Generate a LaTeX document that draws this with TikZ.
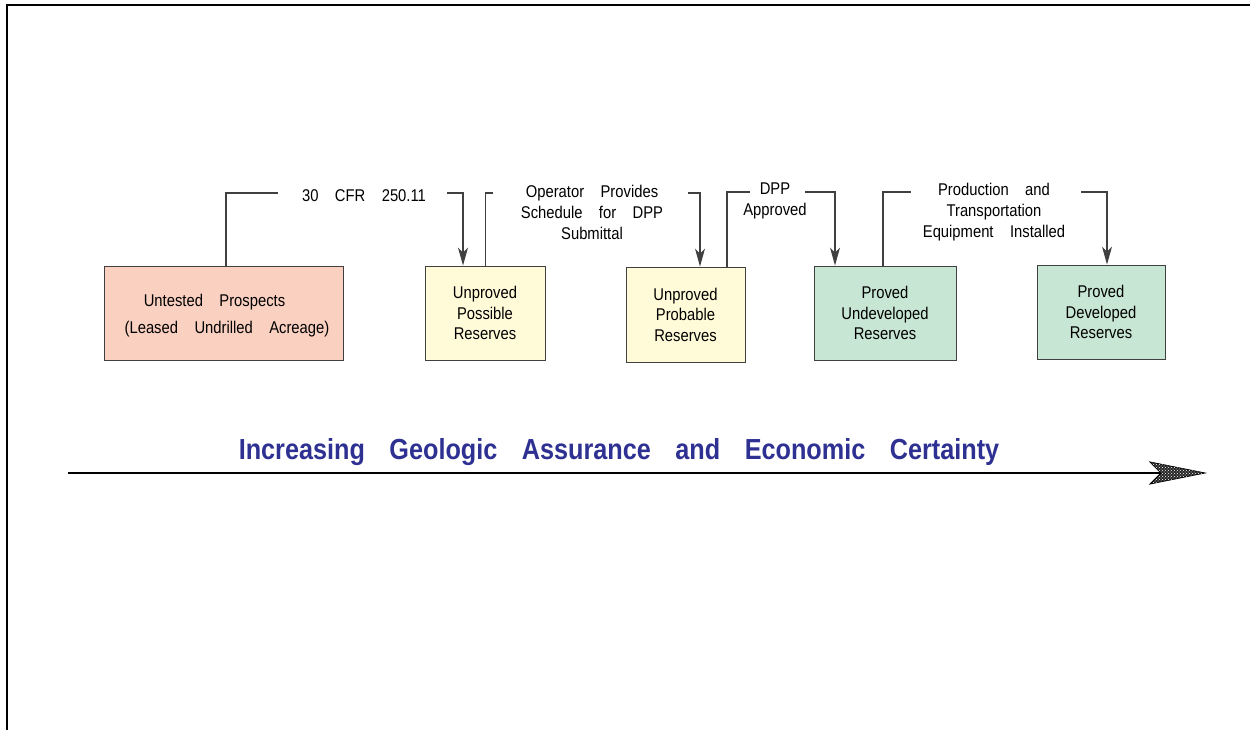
\documentclass[tikz,border=0pt]{standalone}
\usepackage{fontspec}
\setmainfont{Liberation Sans}[FakeStretch=0.87, WordSpace=4]
\usetikzlibrary{arrows.meta,patterns}
\definecolor{salmon}{RGB}{250,208,192}
\definecolor{paleyel}{RGB}{255,251,216}
\definecolor{palegrn}{RGB}{200,230,212}
\definecolor{titleblue}{RGB}{46,49,146}
\newcommand{\titlespacing}{\spaceskip=24.5pt\relax}
\tikzset{
  box/.style={draw=black!75, line width=0.9pt, align=center, inner sep=0pt,
    font=\fontsize{17}{20.5}\selectfont},
  lbl/.style={align=center, inner sep=0pt, font=\fontsize{17}{21}\selectfont},
  conn/.style={draw=black!75, line width=1.1pt},
  arr/.style={conn, -{Stealth[length=18pt,width=10pt,inset=5pt]}}
}
\begin{document}
\begin{tikzpicture}[x=1pt,y=-1pt]
\useasboundingbox (0,0) rectangle (1250,730);
% frame
\draw[line width=2.4pt] (7,730) -- (7,5) -- (1250,5);
% boxes
\node[box, fill=salmon, minimum width=239pt, minimum height=94pt] (untested) at (223.5,313) {};
\node[inner sep=0pt, align=center, font=\fontsize{17}{27}\selectfont] (untestedtxt) at (227,316)
  {\hspace*{-25pt}Untested Prospects\\(Leased Undrilled Acreage)};
\node[box, fill=paleyel, minimum width=120pt, minimum height=94pt] (possible) at (485,313)
  {Unproved\\Possible\\Reserves};
\node[box, fill=paleyel, minimum width=119pt, minimum height=95pt] (probable) at (685.5,314.5)
  {Unproved\\Probable\\Reserves};
\node[box, fill=palegrn, minimum width=142pt, minimum height=94pt] (undev) at (885,313)
  {Proved\\Undeveloped\\Reserves};
\node[box, fill=palegrn, minimum width=128pt, minimum height=94pt] (devel) at (1101,312)
  {Proved\\Developed\\Reserves};
% labels
\node[lbl] (cfr) at (364,196) {30 CFR 250.11};
\node[lbl] (oper) at (592,212) {Operator Provides\\Schedule for DPP\\Submittal};
\node[lbl] (dpp) at (775,201) {DPP\\Approved};
\node[lbl] (prod) at (994,212) {Production and\\Transportation\\Equipment Installed};
% connector points
\coordinate (k1) at (226,193); \coordinate (e1) at (278,193);
\coordinate (f1) at (447,193); \coordinate (g1) at (463,193);
\coordinate (k2) at (485.5,193); \coordinate (e2) at (493,193);
\coordinate (f2) at (688,193); \coordinate (g2) at (700,193);
\coordinate (k3) at (727,192); \coordinate (e3) at (750,192);
\coordinate (f3) at (805,192); \coordinate (g3) at (835,192);
\coordinate (k4) at (883,192); \coordinate (e4) at (911,192);
\coordinate (f4) at (1081,192); \coordinate (g4) at (1107,192);
% connectors
\draw[conn] (untested.north -| k1) -- (k1) -- (e1);
\draw[arr] (f1) -- (g1) -- (possible.north -| g1);
\draw[conn] (possible.north -| k2) -- (k2) -- (e2);
\draw[arr] (f2) -- (g2) -- (probable.north -| g2);
\draw[conn] (probable.north -| k3) -- (k3) -- (e3);
\draw[arr] (f3) -- (g3) -- (undev.north -| g3);
\draw[conn] (undev.north -| k4) -- (k4) -- (e4);
\draw[arr] (f4) -- (g4) -- (devel.north -| g4);
% main axis
\node[inner sep=0pt, text=titleblue, font=\fontsize{29}{33}\selectfont\bfseries] (title) at (619,452)
  {\titlespacing Increasing Geologic Assurance and Economic Certainty};
\coordinate (axs) at (68,473);
\coordinate (axtip) at (1205,473);
\draw[line width=1.2pt] (axs) -- (1160,473);
\draw[line width=0.8pt, fill=black!85, postaction={pattern=crosshatch dots, pattern color=white}]
  (axtip) -- (1150,462) -- (1161,473) -- (1150,484) -- cycle;
\end{tikzpicture}
\end{document}
